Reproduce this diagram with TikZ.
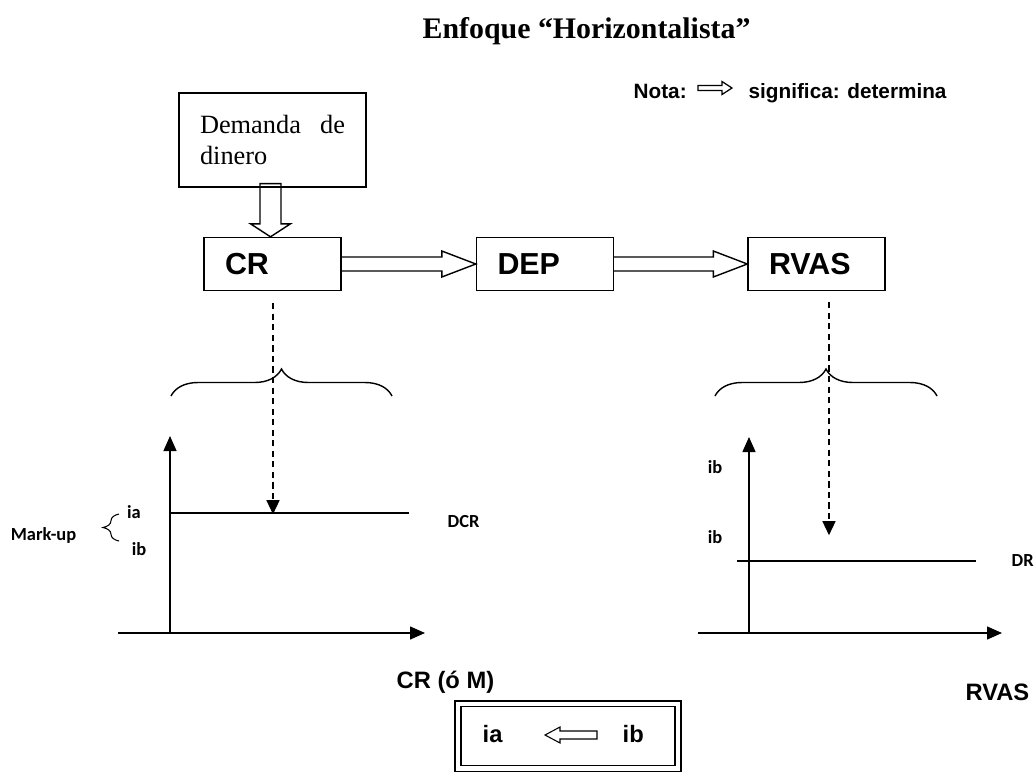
\documentclass[tikz,border=0pt]{standalone}
\usepackage{fontspec}
\setmainfont{Liberation Serif}
\setsansfont{Liberation Sans}
\newfontfamily\calibfont{Carlito}
\usetikzlibrary{arrows.meta,calc,decorations.pathreplacing}

\begin{document}
\begin{tikzpicture}[
  x=0.02cm,y=-0.02cm,
  line width=0.8pt,
  procbox/.style={draw,text width=1.9cm,inner xsep=0.42cm,minimum height=1.06cm,
                  align=left,font=\sffamily\bfseries\fontsize{17.3}{19}\selectfont},
  hollow/.style={draw,line join=miter},
  guide/.style={-{Triangle[length=2.8mm,width=2.6mm]},dash pattern=on 3.5pt off 2.5pt},
  axis/.style={-{Triangle[length=3mm,width=2.6mm]}},
  curly/.style={decorate,decoration={brace,amplitude=0.54cm}},
  small/.style={font=\calibfont\bfseries\fontsize{10.5}{12}\selectfont,inner sep=0pt},
  heavy/.style={font=\sffamily\bfseries\fontsize{13.5}{16}\selectfont,inner sep=0pt},
  note/.style={font=\sffamily\bfseries\fontsize{11.8}{14}\selectfont,inner sep=0pt}
]
\useasboundingbox (0,0) rectangle (1036,772);

\node[font=\bfseries\fontsize{17}{20}\selectfont,anchor=base west,inner sep=0pt]
  (title) at (422,38) {Enfoque “Horizontalista”};

% note
\node[note,anchor=base west] (nota) at (633,98) {Nota:};
\node[note,anchor=base west] (signif) at (748,98) {significa: determina};
\coordinate (ntail) at (698,88);
\coordinate (ntip) at (732,88);
\draw[hollow,line width=0.7pt] ($(ntail)+(0,-2.5)$) -- ($(ntip)+(-10,-2.5)$) -- ($(ntip)+(-10,-6.5)$)
  -- (ntip) -- ($(ntip)+(-10,6.5)$) -- ($(ntip)+(-10,2.5)$) -- ($(ntail)+(0,2.5)$) -- cycle;

% boxes
\node[draw,minimum width=3.74cm,minimum height=1.88cm,text width=2.9cm,inner xsep=0.42cm,
      align=left,font=\fontsize{15}{17.6}\selectfont] (dem) at (272.5,140) {Demanda\hfill de\\dinero};
\node[procbox] (cr) at (272.5,264) {CR};
\node[procbox] (dep) at (545,264) {DEP};
\node[procbox] (rvas) at (816.5,264) {RVAS};

\coordinate (dtail) at ($(dem.south)+(-2,-4)$);
\coordinate (dtip) at ($(cr.north)+(-2,0)$);
\draw[hollow] ($(dtail)+(-10.5,0)$) -- ($(dtip)+(-10.5,-13)$) -- ($(dtip)+(-20,-13)$) -- (dtip)
  -- ($(dtip)+(20,-13)$) -- ($(dtip)+(10.5,-13)$) -- ($(dtail)+(10.5,0)$) -- cycle;

\foreach \a/\b in {cr/dep,dep/rvas}
  \draw[hollow] ($(\a.east)+(0,-7)$) -- ($(\b.west)+(-34,-7)$) -- ($(\b.west)+(-34,-13)$) -- (\b.west)
    -- ($(\b.west)+(-34,13)$) -- ($(\b.west)+(-34,7)$) -- ($(\a.east)+(0,7)$);

% braces
\draw[curly] (171,396) -- (392,396);
\draw[curly] (715,396) -- (937,396);

% left graph
\coordinate (dcrhit) at ($(cr.south)+(0.5,223)$);
\draw[guide] ($(cr.south)+(0.5,12)$) -- (dcrhit);
\draw[axis] (170,633) -- (170,436);
\draw[axis] (118,633) -- (425,633);
\draw (170,513) -- (409,513);
\node[small,anchor=west] (dcr) at (447,522) {DCR};
\node[small] (ia1) at (134,512) {ia};
\node[small] (ib1) at (139,549) {ib};
\draw[line width=0.6pt,decorate,decoration={brace,amplitude=0.32cm}] (119,541) -- (119,514);
\node[small,anchor=east] (markup) at (77,535) {Mark-up};
\node[heavy,anchor=base west] (craxis) at (396,688) {CR (ó M)};

% right graph
\coordinate (rvend) at ($(rvas.south)+(12.5,244)$);
\draw[guide] ($(rvas.south)+(12.5,11)$) -- (rvend);
\draw[axis] (749,633) -- (749,437);
\draw[axis] (698,633) -- (1002,633);
\draw (737,561) -- (976,561);
\node[small,anchor=west] (dr) at (1011,561) {DR};
\node[small] (ib2) at (715,467) {ib};
\node[small] (ib3) at (715,537) {ib};
\node[heavy,anchor=base east] (rvaxis) at (1030,700) {RVAS};

% rule box
\node[draw,double,double distance=0.09cm,minimum width=4.4cm,minimum height=1.29cm] (rule) at (568,736) {};
\node[heavy,anchor=base west] (ia) at (482,742) {ia};
\node[heavy,anchor=base west] (ib) at (622,742) {ib};
\coordinate (btip) at (545,735);
\coordinate (btail) at (597,735);
\draw[hollow,line width=0.6pt] ($(btail)+(0,-4)$) -- ($(btip)+(15,-4)$) -- ($(btip)+(15,-8)$) -- (btip)
  -- ($(btip)+(15,8)$) -- ($(btip)+(15,4)$) -- ($(btail)+(0,4)$) -- cycle;
\end{tikzpicture}
\end{document}
